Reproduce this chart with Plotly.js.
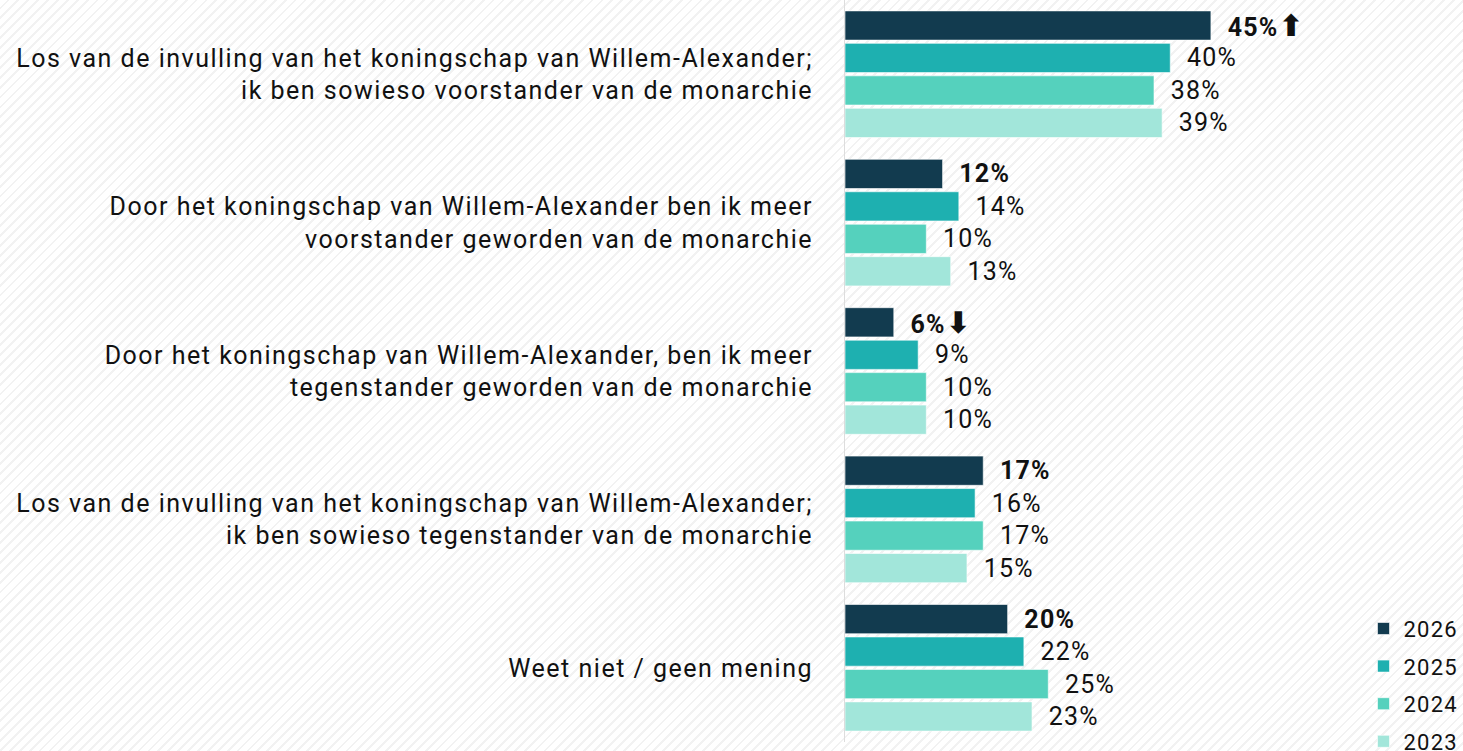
<!DOCTYPE html>
<html>
<head>
<meta charset="utf-8">
<script src="https://cdn.plot.ly/plotly-3.0.1.min.js"></script>
<style>
html,body{margin:0;padding:0;}
body{width:1463px;height:751px;overflow:hidden;
background:#ffffff repeating-linear-gradient(135deg,#ffffff 0px,#ffffff 5px,#f2f2f2 5px,#f2f2f2 7px);}
#chart{width:1463px;height:751px;}
svg text{letter-spacing:1.2px;}
#chart .ytick text{letter-spacing:1.5px;}
</style>
</head>
<body>
<div id="chart"></div>
<script>
const categories = [
  "Los van de invulling van het koningschap van Willem-Alexander;<br>ik ben sowieso voorstander van de monarchie",
  "Door het koningschap van Willem-Alexander ben ik meer<br>voorstander geworden van de monarchie",
  "Door het koningschap van Willem-Alexander, ben ik meer<br>tegenstander geworden van de monarchie",
  "Los van de invulling van het koningschap van Willem-Alexander;<br>ik ben sowieso tegenstander van de monarchie",
  "Weet niet / geen mening"
];
const years = ["2026", "2025", "2024", "2023"];
const values2026 = [45, 12, 6, 17, 20];
const values2025 = [40, 14, 9, 16, 22];
const values2024 = [38, 10, 10, 17, 25];
const values2023 = [39, 13, 10, 15, 23];
const arrows2026 = ["\u2B06", "", "\u2B07", "", ""];

const seriesValues = [values2026, values2025, values2024, values2023];
const colors = ["#123b4f", "#1eb0b0", "#55d1bd", "#a2e6da"];
const FONT = "Roboto, 'Open Sans', sans-serif";

const traces = years.map((yr, i) => {
  const vals = seriesValues[i];
  const text = vals.map((v, j) => {
    let t = "\u00A0\u2009" + v + "%";
    if (i === 0) {
      t = "\u00A0\u2009<b>" + v + "%</b>";
      if (arrows2026[j]) t += '<span style="font-family:\'DejaVu Sans\';font-size:30px"><b>' + arrows2026[j] + '</b></span>';
    }
    return t;
  });
  return {
    type: "bar",
    orientation: "h",
    name: yr,
    legendgroup: yr,
    x: vals,
    y: categories,
    text: text,
    textposition: "outside",
    constraintext: "none",
    cliponaxis: false,
    textfont: {family: FONT, size: 25, color: "#111111"},
    marker: {color: colors[i], line: {color: "rgba(255,255,255,0.6)", width: 1}},
    hoverinfo: "x+name"
  };
});

const layout = {
  width: 1463,
  height: 751,
  margin: {l: 845, r: 0, t: 0, b: 9, pad: 0, autoexpand: false},
  paper_bgcolor: "rgba(0,0,0,0)",
  plot_bgcolor: "rgba(0,0,0,0)",
  barmode: "group",
  bargap: 0.125,
  bargroupgap: 0.1,
  font: {family: FONT, color: "#111111"},
  xaxis: {range: [0, 76], showgrid: false, zeroline: false, showticklabels: false, showline: false, fixedrange: true},
  yaxis: {
    autorange: "reversed",
    showgrid: false,
    zeroline: false,
    showline: true,
    linecolor: "#dddddd",
    linewidth: 1,
    ticks: "",
    ticklabelstandoff: 26,
    tickfont: {family: FONT, size: 25, color: "#111111"},
    fixedrange: true
  },
  showlegend: true,
  legend: {
    orientation: "v",
    x: 0.839, xanchor: "left",
    y: 0.181, yanchor: "top",
    traceorder: "grouped",
    tracegroupgap: 6,
    bgcolor: "rgba(0,0,0,0)",
    font: {family: FONT, size: 22, color: "#111111"}
  }
};

Plotly.newPlot("chart", traces, layout, {displayModeBar: false, staticPlot: true});
</script>
</body>
</html>
